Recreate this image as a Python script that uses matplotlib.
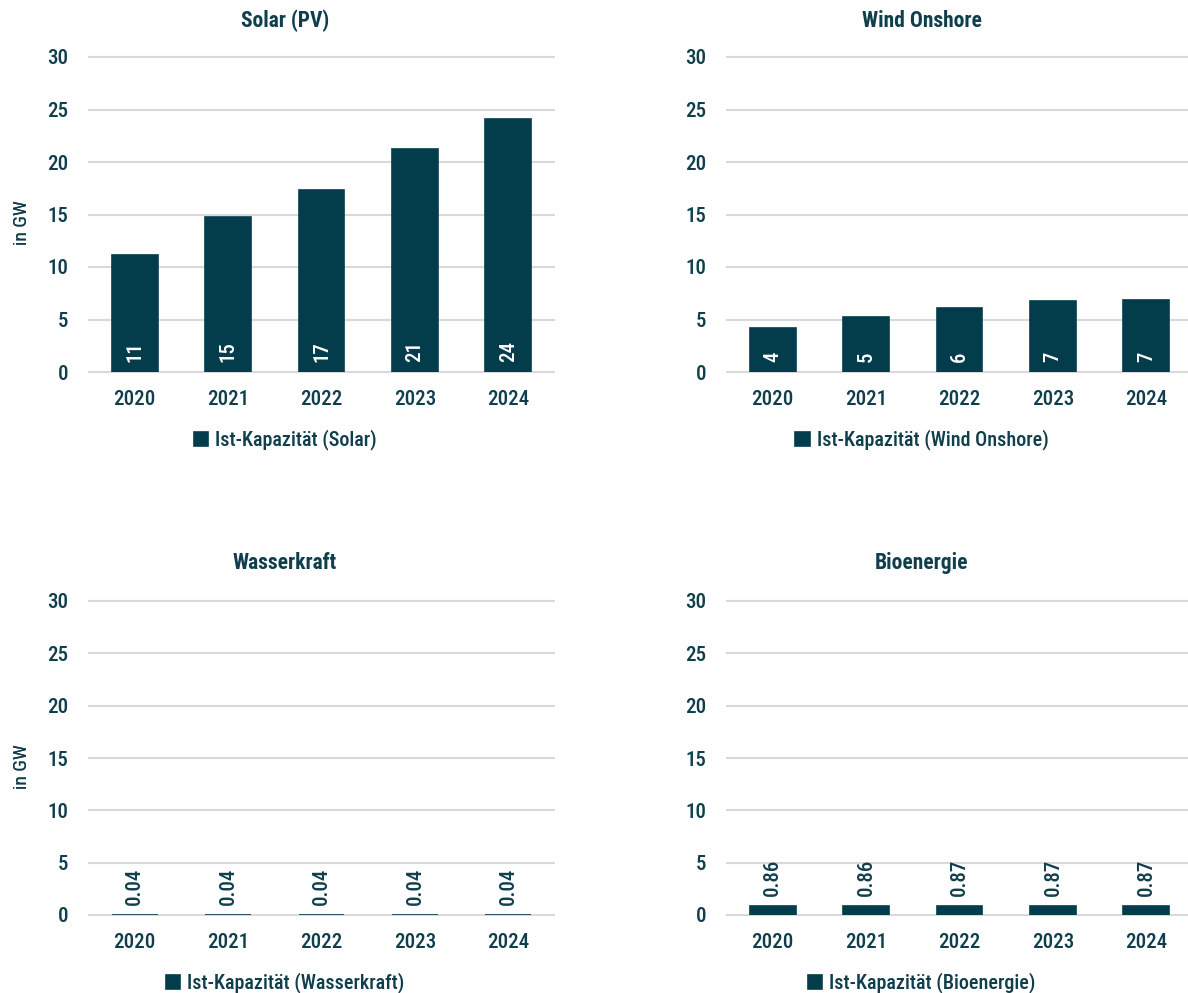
import matplotlib
matplotlib.use("Agg")
import matplotlib.pyplot as plt

# --- data -------------------------------------------------------------
years = ["2020", "2021", "2022", "2023", "2024"]

solar_gw = [11.1, 14.8, 17.3, 21.2, 24.1]
wind_gw = [4.2, 5.2, 6.1, 6.8, 6.9]
wasser_gw = [0.04, 0.04, 0.04, 0.04, 0.04]
bio_gw = [0.86, 0.86, 0.87, 0.87, 0.87]

titles = ["Solar (PV)", "Wind Onshore", "Wasserkraft", "Bioenergie"]
legend_labels = [
    "Ist-Kapazität (Solar)",
    "Ist-Kapazität (Wind Onshore)",
    "Ist-Kapazität (Wasserkraft)",
    "Ist-Kapazität (Bioenergie)",
]
y_ticks = [0, 5, 10, 15, 20, 25, 30]
y_label = "in GW"

# --- style ------------------------------------------------------------
plt.rcParams["font.family"] = ["Roboto Condensed", "Archivo Narrow",
                               "IBM Plex Sans Condensed", "DejaVu Sans"]
plt.rcParams["font.weight"] = "medium"

BAR = "#033D4C"
TEXT = "#0F3E4C"
GRID = "#D9D9D9"

W, H = 1188, 993
fig = plt.figure(figsize=(W / 100, H / 100), dpi=100)
fig.patch.set_facecolor("white")


def px_axes(left, top, right, bottom):
    return fig.add_axes([left / W, 1 - bottom / H, (right - left) / W, (bottom - top) / H])


panels = [
    # values, axes box (px), label style, title/legend centre x, title y, legend y
    (solar_gw, (88, 57, 555, 372), "base", 285, 21, 440),
    (wind_gw, (726, 57, 1193, 372), "base", 922, 21, 440),
    (wasser_gw, (88, 601, 555, 915), "end", 285, 563, 983),
    (bio_gw, (726, 601, 1193, 915), "end", 922, 563, 983),
]

for i, (vals, box, style, cx, ty, ly) in enumerate(panels):
    ax = px_axes(*box)
    x = list(range(len(years)))
    bars = ax.bar(x, vals, width=0.49, color=BAR, edgecolor=BAR, linewidth=1.2,
                  zorder=3, label=legend_labels[i])

    ax.set_xlim(-0.5, len(years) - 0.5)
    ax.set_ylim(0, 30)
    ax.set_yticks(y_ticks)
    ax.set_xticks(x)
    ax.set_xticklabels(years)
    ax.hlines(y_ticks, -0.5, len(years) - 0.5, colors=GRID, linewidth=1.5,
              zorder=1, clip_on=False)
    for s in ax.spines.values():
        s.set_visible(False)
    ax.tick_params(axis="both", length=0, labelsize=15, labelcolor=TEXT)
    ax.tick_params(axis="y", pad=14)
    ax.tick_params(axis="x", pad=13)
    ax.set_facecolor("none")

    if style == "base":
        for xi, v in zip(x, vals):
            ax.annotate(f"{v:.0f}", xy=(xi, 0), xytext=(0, 10),
                        textcoords="offset pixels", rotation=90,
                        ha="center", va="bottom", color="white",
                        fontsize=15, zorder=4)
    else:
        ax.bar_label(bars, labels=[f"{v:.2f}" for v in vals], padding=7,
                     rotation=90, color=TEXT, fontsize=15)

    ax.set_ylabel(y_label, color=TEXT, fontsize=14)
    ax.yaxis.set_label_coords((31 - box[0]) / (box[2] - box[0]), 0.473)

    fig.text(cx / W, 1 - ty / H, titles[i], ha="center", va="center",
             fontsize=15.5, fontweight="bold", color=TEXT)

    leg = ax.legend(loc="center", bbox_to_anchor=(cx / W, 1 - ly / H),
                    bbox_transform=fig.transFigure, frameon=False,
                    handlelength=0.7, handleheight=0.7, handletextpad=0.35,
                    fontsize=14.5, borderaxespad=0, borderpad=0)
    for t in leg.get_texts():
        t.set_color(TEXT)

fig.savefig("out.png", dpi=100, facecolor="white")
